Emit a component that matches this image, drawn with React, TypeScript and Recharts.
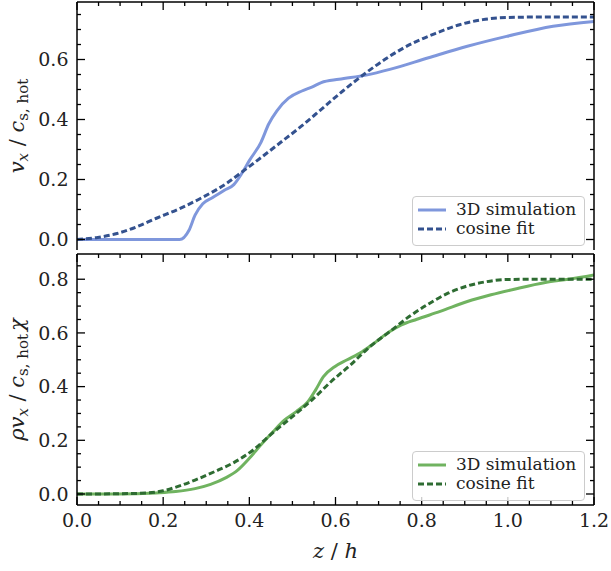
import React from 'react';
import { LineChart, Line, XAxis, YAxis, Legend } from 'recharts';

// top panel: velocity
const velSimZ = [0, 0.1, 0.2, 0.238, 0.26, 0.274, 0.292, 0.314, 0.342, 0.364, 0.382, 0.4, 0.427, 0.445, 0.464, 0.491, 0.522, 0.545, 0.567, 0.608, 0.671, 0.726, 0.816, 0.906, 0.997, 1.105, 1.2];
const velSimV = [0, 0, 0, 0, 0.031, 0.081, 0.119, 0.139, 0.164, 0.183, 0.219, 0.263, 0.324, 0.385, 0.429, 0.471, 0.495, 0.508, 0.523, 0.534, 0.548, 0.567, 0.606, 0.644, 0.677, 0.711, 0.727];
const velFitZ = [0, 0.048, 0.093, 0.138, 0.183, 0.238, 0.292, 0.346, 0.382, 0.418, 0.473, 0.527, 0.563, 0.617, 0.671, 0.726, 0.78, 0.834, 0.888, 0.942, 0.997, 1.1, 1.2];
const velFitV = [0, 0.007, 0.02, 0.042, 0.07, 0.103, 0.141, 0.186, 0.224, 0.263, 0.324, 0.385, 0.429, 0.495, 0.556, 0.611, 0.655, 0.688, 0.716, 0.733, 0.74, 0.742, 0.742];

// bottom panel: momentum flux
const fluxSimZ = [0, 0.093, 0.183, 0.229, 0.274, 0.31, 0.346, 0.373, 0.4, 0.427, 0.455, 0.482, 0.509, 0.536, 0.554, 0.572, 0.599, 0.626, 0.662, 0.689, 0.726, 0.753, 0.789, 0.843, 0.906, 0.961, 1.015, 1.087, 1.141, 1.2];
const fluxSimV = [0, 0, 0.004, 0.009, 0.02, 0.036, 0.061, 0.089, 0.133, 0.183, 0.232, 0.276, 0.307, 0.344, 0.388, 0.437, 0.475, 0.499, 0.53, 0.561, 0.605, 0.63, 0.651, 0.68, 0.717, 0.742, 0.763, 0.788, 0.8, 0.816];
const fluxFitZ = [0, 0.1, 0.165, 0.2, 0.238, 0.274, 0.319, 0.364, 0.409, 0.455, 0.5, 0.545, 0.59, 0.635, 0.68, 0.726, 0.771, 0.816, 0.861, 0.906, 0.951, 0.997, 1.1, 1.2];
const fluxFitV = [0, 0.001, 0.004, 0.012, 0.03, 0.052, 0.083, 0.117, 0.164, 0.229, 0.288, 0.35, 0.419, 0.481, 0.549, 0.605, 0.661, 0.708, 0.748, 0.775, 0.791, 0.799, 0.8, 0.8];

const xMajor = [0, 0.2, 0.4, 0.6, 0.8, 1.0, 1.2];
const xTicks = [0, 0.05, 0.1, 0.15, 0.2, 0.25, 0.3, 0.35, 0.4, 0.45, 0.5, 0.55, 0.6, 0.65, 0.7, 0.75, 0.8, 0.85, 0.9, 0.95, 1.0, 1.05, 1.1, 1.15, 1.2];
const velMajor = [0, 0.2, 0.4, 0.6];
const velTicks = [0, 0.05, 0.1, 0.15, 0.2, 0.25, 0.3, 0.35, 0.4, 0.45, 0.5, 0.55, 0.6, 0.65, 0.7, 0.75];
const fluxMajor = [0, 0.2, 0.4, 0.6, 0.8];
const fluxTicks = [0, 0.05, 0.1, 0.15, 0.2, 0.25, 0.3, 0.35, 0.4, 0.45, 0.5, 0.55, 0.6, 0.65, 0.7, 0.75, 0.8, 0.85];

const seriesNames = ['3D simulation', 'cosine fit'];

const FONT = '"DejaVu Serif", "Liberation Serif", serif';
const BLUE_SIM = '#7f97dc';
const BLUE_FIT = '#34528f';
const GREEN_SIM = '#70b360';
const GREEN_FIT = '#2e6c32';

const zip = (zs: number[], vs: number[]) => zs.map((z, i) => ({ z, v: vs[i] }));

const TickMark = (props: any) => {
  const { x, y, payload, side, majors, showLabel } = props;
  const v = payload.value;
  const major = majors.some((m: number) => Math.abs(m - v) < 1e-6);
  const len = major ? 8 : 4;
  let line;
  if (side === 'bottom') line = <line x1={x} y1={y} x2={x} y2={y - len} />;
  else if (side === 'top') line = <line x1={x} y1={y} x2={x} y2={y + len} />;
  else if (side === 'left') line = <line x1={x} y1={y} x2={x + len} y2={y} />;
  else line = <line x1={x} y1={y} x2={x - len} y2={y} />;
  return (
    <g>
      <g stroke="#000" strokeWidth={1.3}>{line}</g>
      {showLabel && major && side === 'bottom' && (
        <text x={x} y={y + 22} textAnchor="middle" fontFamily={FONT} fontSize={19} fill="#222">{v.toFixed(1)}</text>
      )}
      {showLabel && major && side === 'left' && (
        <text x={x - 8.5} y={y} dy="0.36em" textAnchor="end" fontFamily={FONT} fontSize={19} fill="#222">{v.toFixed(1)}</text>
      )}
    </g>
  );
};

const YLabel = (props: any) => {
  const { viewBox, flux } = props;
  const cx = 18;
  const cy = viewBox.y + viewBox.height / 2;
  return (
    <text x={cx} y={cy} transform={`rotate(-90, ${cx}, ${cy})`} textAnchor="middle" dy="0.3em" fontFamily={FONT} fontSize={21} fill="#222">
      {flux && <tspan fontStyle="italic">ρ</tspan>}
      <tspan fontStyle="italic">v</tspan>
      <tspan fontStyle="italic" fontSize={15} dy={4}>x</tspan>
      <tspan dy={-4}> / </tspan>
      <tspan fontStyle="italic">c</tspan>
      <tspan fontSize={15} dy={4}>s, hot</tspan>
      {flux && <tspan fontStyle="italic" dy={-4} dx={3}>χ</tspan>}
    </text>
  );
};

const XLabel = (props: any) => {
  const { viewBox } = props;
  const cx = viewBox.x + viewBox.width / 2;
  return (
    <text x={cx} y={viewBox.y + 53} textAnchor="middle" fontFamily={FONT} fontSize={21} fill="#222">
      <tspan fontStyle="italic">z</tspan>
      <tspan> / </tspan>
      <tspan fontStyle="italic">h</tspan>
    </text>
  );
};

const LegendBox = ({ sim, fit }: { sim: string; fit: string }) => (
  <div style={{ width: 171, height: 45, border: '1px solid #cccccc', borderRadius: 4, background: 'rgba(255,255,255,0.8)', paddingTop: 3, boxSizing: 'content-box', fontFamily: FONT, fontSize: 17, color: '#222' }}>
    {[sim, fit].map((c, i) => (
      <div key={i} style={{ display: 'flex', alignItems: 'center', height: 19 }}>
        <svg width={28} height={6} style={{ marginLeft: 5, marginRight: 10 }}>
          <line x1={0} y1={3} x2={28} y2={3} stroke={c} strokeWidth={3} strokeDasharray={i === 1 ? '6 3' : undefined} />
        </svg>
        <span style={{ lineHeight: '19px' }}>{seriesNames[i]}</span>
      </div>
    ))}
  </div>
);

interface PanelProps {
  sim: { z: number; v: number }[];
  fit: { z: number; v: number }[];
  simColor: string;
  fitColor: string;
  yDomain: [number, number];
  yMajor: number[];
  yTicks: number[];
  height: number;
  margin: { top: number; right: number; bottom: number; left: number };
  xAxisHeight: number;
  showX: boolean;
  flux: boolean;
  legendTop: number;
}

const frame = { stroke: '#000', strokeWidth: 1.5 };

const Panel = (p: PanelProps) => (
  <LineChart width={611} height={p.height} margin={p.margin}>
    <XAxis dataKey="z" type="number" domain={[0, 1.2]} ticks={xTicks} interval={0} allowDataOverflow
      height={p.xAxisHeight} tickSize={0} tickMargin={0} axisLine={frame} tickLine={false}
      tick={<TickMark side="bottom" majors={xMajor} showLabel={p.showX} />}
      label={p.showX ? <XLabel /> : undefined} />
    <XAxis xAxisId="top" orientation="top" dataKey="z" type="number" domain={[0, 1.2]} ticks={xTicks} interval={0} allowDataOverflow
      height={1} tickSize={0} tickMargin={0} axisLine={frame} tickLine={false}
      tick={<TickMark side="top" majors={xMajor} showLabel={false} />} />
    <YAxis type="number" domain={p.yDomain} ticks={p.yTicks} interval={0} allowDataOverflow width={77}
      tickSize={0} tickMargin={0} axisLine={frame} tickLine={false}
      tick={<TickMark side="left" majors={p.yMajor} showLabel />}
      label={<YLabel flux={p.flux} />} />
    <YAxis yAxisId="right" orientation="right" type="number" domain={p.yDomain} ticks={p.yTicks} interval={0} allowDataOverflow width={1}
      tickSize={0} tickMargin={0} axisLine={frame} tickLine={false}
      tick={<TickMark side="right" majors={p.yMajor} showLabel={false} />} />
    {/* invisible copy bound to the top/right axes so they get drawn */}
    <Line data={p.sim} dataKey="v" xAxisId="top" yAxisId="right" stroke="none" dot={false} activeDot={false} legendType="none" isAnimationActive={false} />
    <Line data={p.sim} dataKey="v" type="monotone" stroke={p.simColor} strokeWidth={3} dot={false} isAnimationActive={false} />
    <Line data={p.fit} dataKey="v" type="monotone" stroke={p.fitColor} strokeWidth={3} strokeDasharray="6 3" dot={false} isAnimationActive={false} />
    <Legend layout="vertical" align="center" verticalAlign="middle"
      wrapperStyle={{ left: 412, top: p.legendTop, width: 173 }}
      content={() => <LegendBox sim={p.simColor} fit={p.fitColor} />} />
  </LineChart>
);

export default function App() {
  return (
    <div style={{ position: 'absolute', left: 0, top: 0, width: 611, height: 571, background: '#fff' }}>
      <div style={{ position: 'absolute', left: 0, top: 0 }}>
        <Panel sim={zip(velSimZ, velSimV)} fit={zip(velFitZ, velFitV)} simColor={BLUE_SIM} fitColor={BLUE_FIT}
          yDomain={[-0.035, 0.7917]} yMajor={velMajor} yTicks={velTicks} height={252}
          margin={{ top: 1, right: 16, bottom: 2, left: 0 }} xAxisHeight={0} showX={false} flux={false} legendTop={196} />
      </div>
      <div style={{ position: 'absolute', left: 0, top: 252 }}>
        <Panel sim={zip(fluxSimZ, fluxSimV)} fit={zip(fluxFitZ, fluxFitV)} simColor={GREEN_SIM} fitColor={GREEN_FIT}
          yDomain={[-0.041, 0.894]} yMajor={fluxMajor} yTicks={fluxTicks} height={319}
          margin={{ top: 1, right: 16, bottom: 0, left: 0 }} xAxisHeight={66} showX flux legendTop={199} />
      </div>
    </div>
  );
}
